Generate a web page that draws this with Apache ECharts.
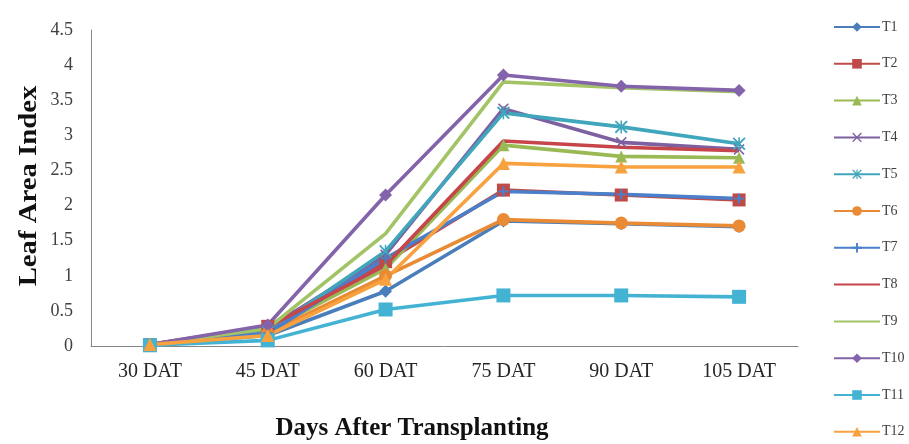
<!DOCTYPE html>
<html>
<head>
<meta charset="utf-8">
<title>Leaf Area Index</title>
<script src="https://cdn.jsdelivr.net/npm/echarts@6/dist/echarts.min.js"></script>
<style>
  html, body { margin: 0; padding: 0; background: #ffffff; }
  #chart { width: 909px; height: 444px; }
</style>
</head>
<body>
<div id="chart"></div>
<script>
// Sampling dates
const categories = ['30 DAT', '45 DAT', '60 DAT', '75 DAT', '90 DAT', '105 DAT'];

// Leaf area index per treatment
const t1  = [0.02, 0.15, 0.78, 1.78, 1.74, 1.70];
const t2  = [0.02, 0.28, 1.20, 2.22, 2.15, 2.08];
const t3  = [0.02, 0.22, 1.10, 2.86, 2.70, 2.68];
const t4  = [0.02, 0.25, 1.30, 3.38, 2.90, 2.80];
const t5  = [0.02, 0.20, 1.35, 3.32, 3.12, 2.88];
const t6  = [0.02, 0.18, 1.00, 1.80, 1.75, 1.71];
const t7  = [0.02, 0.18, 1.25, 2.20, 2.16, 2.10];
const t8  = [0.02, 0.27, 1.15, 2.92, 2.83, 2.78];
const t9  = [0.02, 0.25, 1.60, 3.76, 3.68, 3.62];
const t10 = [0.02, 0.30, 2.15, 3.86, 3.70, 3.64];
const t11 = [0.01, 0.08, 0.52, 0.72, 0.72, 0.70];
const t12 = [0.02, 0.15, 0.95, 2.60, 2.55, 2.55];

const treatmentNames = ['T1', 'T2', 'T3', 'T4', 'T5', 'T6', 'T7', 'T8', 'T9', 'T10', 'T11', 'T12'];
const treatmentValues = [t1, t2, t3, t4, t5, t6, t7, t8, t9, t10, t11, t12];

// Y axis ticks
const yTicks = [0, 0.5, 1, 1.5, 2, 2.5, 3, 3.5, 4, 4.5];

// Marker shapes drawn as filled outlines
const PLUS = 'path://M4,0H6V4H10V6H6V10H4V6H0V4H4Z';
const CROSS = 'path://M1,0L5,4L9,0L10,1L6,5L10,9L9,10L5,6L1,10L0,9L4,5L0,1Z';
const STAR = 'path://M1,0L5,4L9,0L10,1L6,5L10,9L9,10L5,6L1,10L0,9L4,5L0,1Z M4.4,0H5.6V10H4.4Z';

const styles = [
  { color: '#4A7EBB', symbol: 'diamond',  size: 13 },
  { color: '#BE4B48', symbol: 'rect',     size: 13 },
  { color: '#98B954', symbol: 'triangle', size: 12 },
  { color: '#7D60A0', symbol: CROSS,      size: 11 },
  { color: '#3FA6BC', symbol: STAR,       size: 13 },
  { color: '#E98A35', symbol: 'circle',   size: 13 },
  { color: '#4A7FCB', symbol: PLUS,       size: 10 },
  { color: '#C6454A', symbol: 'none',     size: 0 },
  { color: '#A2C366', symbol: 'none',     size: 0 },
  { color: '#8363A9', symbol: 'diamond',  size: 13 },
  { color: '#44B3D3', symbol: 'rect',     size: 14 },
  { color: '#F7A23E', symbol: 'triangle', size: 13 }
];

const FONT = "'Liberation Serif', 'DejaVu Serif', serif";

const series = treatmentNames.map((name, i) => ({
  name: name,
  type: 'line',
  data: treatmentValues[i],
  symbol: styles[i].symbol,
  symbolSize: styles[i].size,
  showSymbol: styles[i].symbol !== 'none',
  lineStyle: { width: 3.6, color: styles[i].color },
  itemStyle: { color: styles[i].color },
  emphasis: { disabled: true }
}));

// Legend entries; treatments without markers show only their line
const legendData = treatmentNames.map((name, i) => (
  styles[i].symbol === 'none'
    ? { name: name, itemStyle: { opacity: 0 } }
    : { name: name }
));

const chart = echarts.init(document.getElementById('chart'), null, { renderer: 'canvas' });

chart.setOption({
  animation: false,
  backgroundColor: '#ffffff',
  grid: { left: 91, right: 111, top: 30, bottom: 98, containLabel: false },
  legend: {
    orient: 'vertical',
    left: 828,
    top: 15,
    itemWidth: 46,
    itemHeight: 12,
    itemGap: 22.8,
    data: legendData,
    textStyle: { fontFamily: FONT, fontSize: 14, color: '#404040', padding: [0, 0, 0, -3] }
  },
  xAxis: {
    type: 'category',
    data: categories,
    boundaryGap: true,
    axisLine: { lineStyle: { color: '#868686', width: 1 } },
    axisTick: { show: false },
    axisLabel: { fontFamily: FONT, fontSize: 20, color: '#262626', margin: 16 },
    splitLine: { show: false }
  },
  yAxis: {
    type: 'value',
    min: yTicks[0],
    max: yTicks[yTicks.length - 1],
    interval: yTicks[1] - yTicks[0],
    axisLine: { show: true, lineStyle: { color: '#868686', width: 1 } },
    axisTick: { show: false },
    axisLabel: { fontFamily: FONT, fontSize: 18, color: '#404040', margin: 18 },
    splitLine: { show: false }
  },
  graphic: [
    {
      type: 'text',
      x: 412,
      y: 429,
      style: {
        text: 'Days After Transplanting',
        font: "bold 25px 'Liberation Serif', serif",
        fill: '#111111',
        align: 'center',
        verticalAlign: 'middle'
      }
    },
    {
      type: 'text',
      x: 30,
      y: 186,
      rotation: Math.PI / 2,
      scaleX: 1.15,
      style: {
        text: 'Leaf Area Index',
        font: "bold 25px 'Liberation Serif', serif",
        fill: '#111111',
        align: 'center',
        verticalAlign: 'middle'
      }
    }
  ],
  series: series
});
</script>
</body>
</html>
